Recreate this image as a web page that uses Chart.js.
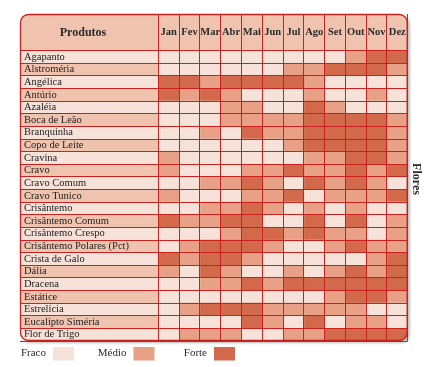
<!DOCTYPE html>
<html lang="pt">
<head>
<meta charset="utf-8">
<script src="https://cdn.jsdelivr.net/npm/chart.js@4.4.1/dist/chart.umd.min.js"></script>
<style>
  html, body { margin: 0; padding: 0; background: #fff; }
</style>
</head>
<body>
<canvas id="chart" width="426" height="367"></canvas>
<script>
// ----------------------------------------------
// Dados: oferta mensal por produto (0 = Fraco, 1 = Médio, 2 = Forte)
// ----------------------------------------------
const produtos = [
  'Agapanto', 'Alstroméria', 'Angélica', 'Antúrio', 'Azaléia', 'Boca de Leão',
  'Branquinha', 'Copo de Leite', 'Cravina', 'Cravo', 'Cravo Comum', 'Cravo Tunico',
  'Crisântemo', 'Crisântemo Comum', 'Crisântemo Crespo', 'Crisântemo Polares (Pct)',
  'Crista de Galo', 'Dália', 'Dracena', 'Estátice', 'Estrelícia', 'Eucalipto Siméria',
  'Flor de Trigo'
];
const meses  = ['Jan', 'Fev', 'Mar', 'Abr', 'Mai', 'Jun', 'Jul', 'Ago', 'Set', 'Out', 'Nov', 'Dez'];
const niveis = ['Fraco', 'Médio', 'Forte'];
const oferta = [
  [0,0,0,0,0,0,0,0,0,1,2,2], // Agapanto
  [0,0,0,0,0,0,1,1,2,2,2,1], // Alstroméria
  [2,2,1,2,2,2,2,1,0,0,0,0], // Angélica
  [2,1,2,1,0,0,0,1,0,0,1,0], // Antúrio
  [0,0,0,1,1,0,0,2,1,0,0,0], // Azaléia
  [0,0,0,1,1,1,1,2,2,2,2,1], // Boca de Leão
  [0,0,1,0,2,1,1,2,2,2,2,1], // Branquinha
  [0,0,0,0,0,0,1,2,2,2,2,1], // Copo de Leite
  [1,0,0,0,0,0,0,1,1,2,2,1], // Cravina
  [1,0,0,0,1,1,2,1,1,2,1,2], // Cravo
  [0,0,1,1,2,1,0,2,1,2,1,0], // Cravo Comum
  [1,0,0,0,1,1,2,0,1,1,1,2], // Cravo Tunico
  [0,0,1,1,2,1,0,1,0,1,0,0], // Crisântemo
  [2,1,1,2,2,0,0,2,0,2,0,1], // Crisântemo Comum
  [0,0,0,1,2,2,1,2,1,1,0,1], // Crisântemo Crespo
  [0,1,2,2,2,1,0,0,1,2,1,1], // Crisântemo Polares (Pct)
  [2,1,2,2,1,0,0,0,0,0,1,2], // Crista de Galo
  [1,0,2,1,0,0,1,0,1,2,1,2], // Dália
  [0,0,1,1,2,1,2,2,2,2,2,2], // Dracena
  [0,0,0,0,0,0,0,0,1,2,2,1], // Estátice
  [0,1,2,2,2,1,1,1,1,1,0,0], // Estrelícia
  [0,0,0,0,2,1,0,2,0,1,1,0], // Eucalipto Siméria
  [0,1,1,1,0,0,1,1,2,2,2,2]  // Flor de Trigo
];

const cores    = ['#f6e2d8', '#e8a187', '#d1694a'];
const VERMELHO = '#c8211e';
const SALMAO   = '#efc3ae';
const FONTE    = '"Liberation Serif", "DejaVu Serif", serif';

function caminhoArredondado(ctx, x, y, w, h, r) {
  ctx.beginPath();
  ctx.moveTo(x + r, y);
  ctx.lineTo(x + w - r, y);
  ctx.arcTo(x + w, y, x + w, y + r, r);
  ctx.lineTo(x + w, y + h - r);
  ctx.arcTo(x + w, y + h, x + w - r, y + h, r);
  ctx.lineTo(x + r, y + h);
  ctx.arcTo(x, y + h, x, y + h - r, r);
  ctx.lineTo(x, y + r);
  ctx.arcTo(x, y, x + r, y, r);
  ctx.closePath();
}

// moldura da tabela (a partir da área do gráfico)
function moldura(chart) {
  const a = chart.chartArea;
  return { x: 20, y: 14, w: a.right - 20, h: a.bottom - 14, r: 8 };
}

// ----------------------------------------------
// Plugin: fundo, coluna de produtos, cabeçalho, legenda
// ----------------------------------------------
const tabelaPlugin = {
  id: 'tabela',
  beforeDraw(chart) {
    const { ctx, chartArea: a } = chart;
    const y = chart.scales.y;
    const m = moldura(chart);
    ctx.save();
    ctx.fillStyle = '#fff';
    ctx.fillRect(0, 0, chart.width, chart.height);

    // sombra + fundo
    ctx.shadowColor = 'rgba(0,0,0,0.28)';
    ctx.shadowBlur = 3;
    ctx.shadowOffsetX = 2;
    ctx.shadowOffsetY = 2;
    caminhoArredondado(ctx, m.x, m.y, m.w, m.h, m.r);
    ctx.fillStyle = cores[0];
    ctx.fill();
    ctx.shadowColor = 'transparent';

    caminhoArredondado(ctx, m.x, m.y, m.w, m.h, m.r);
    ctx.clip();
    // cabeçalho
    ctx.fillStyle = SALMAO;
    ctx.fillRect(m.x, m.y, m.w, a.top - m.y);
    // linhas alternadas da coluna de produtos
    produtos.forEach((p, i) => {
      const y0 = y.getPixelForValue(i - 0.5);
      const y1 = y.getPixelForValue(i + 0.5);
      ctx.fillStyle = i % 2 ? SALMAO : cores[0];
      ctx.fillRect(m.x, y0, a.left - m.x, y1 - y0);
    });
    ctx.restore();
  },
  beforeDatasetsDraw(chart) {
    const m = moldura(chart);
    chart.ctx.save();
    caminhoArredondado(chart.ctx, m.x, m.y, m.w, m.h, m.r);
    chart.ctx.clip();
  },
  afterDatasetsDraw(chart) {
    chart.ctx.restore();
  },
  afterDraw(chart) {
    const { ctx, chartArea: a } = chart;
    const m = moldura(chart);
    ctx.save();
    // borda externa
    caminhoArredondado(ctx, m.x + 0.5, m.y + 0.5, m.w - 1, m.h - 1, m.r);
    ctx.strokeStyle = VERMELHO;
    ctx.lineWidth = 1.3;
    ctx.stroke();

    // título da coluna
    ctx.fillStyle = '#2b2b2b';
    ctx.font = 'bold 12px ' + FONTE;
    ctx.textAlign = 'center';
    ctx.textBaseline = 'middle';
    ctx.fillText('Produtos', 83, (m.y + a.top) / 2 + 0.5);

    // rótulo lateral
    ctx.save();
    ctx.translate(a.right + 8.5, 179);
    ctx.rotate(Math.PI / 2);
    ctx.font = 'bold 12px ' + FONTE;
    ctx.fillText('Flores', 0, 0);
    ctx.restore();

    // legenda
    ctx.font = '11px ' + FONTE;
    ctx.textAlign = 'right';
    niveis.forEach((n, i) => {
      const sx = 53 + i * 80.5;
      ctx.fillStyle = '#2b2b2b';
      ctx.fillText(n, sx - 7, 353);
      ctx.fillStyle = cores[i];
      ctx.fillRect(sx, 347, 21, 13.5);
    });
    ctx.restore();
  }
};

// ----------------------------------------------
// Gráfico: barras horizontais empilhadas (uma por mês)
// ----------------------------------------------
const datasets = meses.map((mes, j) => ({
  label: mes,
  data: produtos.map(() => 1),
  backgroundColor: oferta.map(linha => cores[linha[j]]),
  borderWidth: 0,
  barPercentage: 1,
  categoryPercentage: 1
}));

new Chart(document.getElementById('chart'), {
  type: 'bar',
  data: { labels: produtos, datasets },
  plugins: [tabelaPlugin],
  options: {
    indexAxis: 'y',
    responsive: false,
    devicePixelRatio: 1,
    animation: false,
    events: [],
    layout: { padding: { left: 24, top: 14, right: 18.3, bottom: 26 } },
    plugins: { legend: { display: false }, tooltip: { enabled: false } },
    scales: {
      x: {
        type: 'linear', stacked: true, min: 0, max: meses.length, position: 'bottom',
        ticks: { display: false, stepSize: 1 },
        grid: { color: VERMELHO, drawTicks: false, z: 1 },
        border: { display: false },
        afterFit: s => { s.height = 0; }
      },
      x2: {
        type: 'category', labels: meses, position: 'top', offset: true,
        grid: { offset: true, drawOnChartArea: false, color: VERMELHO, tickLength: 36.7 },
        border: { color: VERMELHO, z: 1 },
        ticks: {
          font: { family: FONTE, size: 10.5, weight: 'bold' }, color: '#2b2b2b',
          padding: -25, maxRotation: 0, autoSkip: false
        },
        afterFit: s => { s.height = 36.7; }
      },
      y: {
        type: 'category', stacked: true, position: 'left', offset: true,
        grid: { offset: true, color: VERMELHO, tickLength: 138.3, z: 1 },
        border: { color: VERMELHO, z: 1 },
        ticks: {
          crossAlign: 'far', font: { family: FONTE, size: 10.5 }, color: '#222',
          autoSkip: false, padding: 0
        },
        afterFit: s => { s.width = 134.3; }
      }
    }
  }
});
</script>
</body>
</html>
